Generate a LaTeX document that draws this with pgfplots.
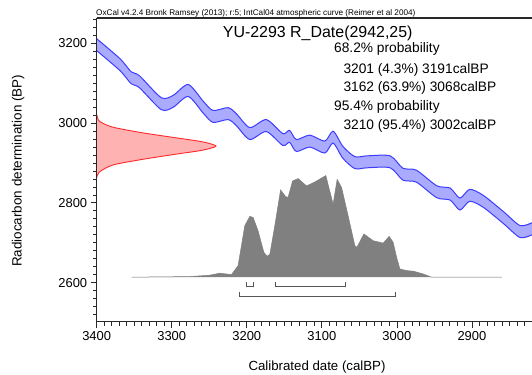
\documentclass[border=0pt]{standalone}
\usepackage{pgfplots}
\pgfplotsset{compat=1.18}
\usepackage{pgfplotstable}
\usepackage{fontspec}
\setmainfont{Liberation Sans}
\definecolor{bandfill}{RGB}{170,170,255}
\definecolor{bandline}{RGB}{60,60,255}
\definecolor{redfill}{RGB}{255,178,178}
\definecolor{redline}{RGB}{255,40,40}
\definecolor{distgrey}{RGB}{128,128,128}
\definecolor{brk}{RGB}{85,85,85}
\definecolor{axgrey}{RGB}{40,40,40}

\pgfplotstableread{
x    up   lo
3400 3212 3182
3369 3162 3132
3354 3129 3099
3343 3119 3089
3314 3064 3034
3298 3070 3040
3278 3097 3067
3258 3055 3025
3245 3032 3002
3225 3039 3009
3214 3024 2994
3196 2989 2959
3174 3009 2979
3152 2974 2944
3143 2982 2952
3134 2959 2929
3116 2970 2940
3096 2955 2925
3085 2980 2950
3072 2942 2912
3056 2916 2886
3040 2918 2888
3009 2918 2888
2992 2887 2857
2974 2882 2852
2947 2843 2813
2929 2837 2807
2916 2812 2782
2903 2834 2804
2885 2819 2789
2858 2778 2748
2836 2743 2713
2820 2750 2720
}\curve

\pgfplotstableread{
x    y
3400 3212
3369 3162
3354 3129
3343 3119
3314 3064
3298 3070
3278 3097
3258 3055
3245 3032
3225 3039
3214 3024
3196 2989
3174 3009
3152 2974
3143 2982
3134 2959
3116 2970
3096 2955
3085 2980
3072 2942
3056 2916
3040 2918
3009 2918
2992 2887
2974 2882
2947 2843
2929 2837
2916 2812
2903 2834
2885 2819
2858 2778
2836 2743
2820 2750
2820 2720
2836 2713
2858 2748
2885 2789
2903 2804
2916 2782
2929 2807
2947 2813
2974 2852
2992 2857
3009 2888
3040 2888
3056 2886
3072 2912
3085 2950
3096 2925
3116 2940
3134 2929
3143 2952
3152 2944
3174 2979
3196 2959
3214 2994
3225 3009
3245 3002
3258 3025
3278 3067
3298 3040
3314 3034
3343 3089
3354 3099
3369 3132
3400 3182
}\band

\pgfplotstableread{
x      y
3353.3 2613.5
3276   2615
3249.3 2618.5
3236   2623.5
3220.4 2620
3211.6 2642.5
3202.7 2742.5
3196   2766
3191.6 2763.5
3185   2730
3177.3 2676
3173   2666
3169.3 2671
3162.7 2742.5
3155   2832.5
3148.4 2816
3145   2813.5
3139   2855
3131.6 2861
3120.4 2842.5
3109.3 2852.5
3094.7 2868.5
3085   2796.5
3079.6 2859
3073.7 2838.5
3065   2767.5
3056   2692.5
3053.3 2688.5
3044   2722
3031.6 2705
3018.3 2699
3010.3 2716
3005   2701
3000.4 2663.5
2996   2634
2987   2630
2978   2628.5
2964.9 2621.5
2953.7 2613.5
2860   2613.5
}\dist

\pgfplotstableread{
x      y
3400   3021.75
3397.3 3006.75
3388.5 2996.75
3375.2 2988.5
3339.6 2976
3295.3 2963.5
3259.7 2953.5
3241   2942.5
3259.7 2932
3295.3 2922
3339.6 2909
3375.2 2896.75
3388.5 2886.75
3397.3 2876
3400   2863.5
}\gauss

\begin{document}
\begin{tikzpicture}
\path[use as bounding box] (0,0) rectangle (532bp,375bp);
\begin{axis}[
  at={(96.7bp,53bp)}, anchor=south west,
  scale only axis, width=435.3bp, height=304bp,
  x dir=reverse,
  xmin=2820, xmax=3400, ymin=2501, ymax=3264,
  axis x line*=bottom, axis y line*=left,
  xtick pos=left, ytick pos=left,
  tick align=outside,
  major tick length=6bp, minor tick length=3.5bp,
  xtick={2900,3000,3100,3200,3300,3400},
  ytick={2600,2800,3000,3200},
  minor xtick={2830,2840,...,3390},
  minor ytick={2520,2540,...,3260},
  every tick/.style={axgrey, line width=0.8bp},
  axis line style={axgrey, line width=1bp},
  tick label style={font=\fontsize{13}{15}\selectfont, text=black},
  /pgf/number format/1000 sep={},
  /pgf/number format/assume math mode=true,
  axis on top,
]
% red radiocarbon date distribution
\addplot[draw=redline, fill=redfill, line width=0.9bp, smooth, tension=0.45] table[x=x,y=y]{\gauss};
% calibration curve band
\addplot[draw=none, fill=bandfill, smooth, tension=0.45] table[x=x,y=y]{\band};
\addplot[draw=bandline, line width=1bp, smooth, tension=0.45] table[x=x,y=up]{\curve};
\addplot[draw=bandline, line width=1bp, smooth, tension=0.45] table[x=x,y=lo]{\curve};
% calibrated distribution
\addplot[draw=distgrey, fill=distgrey, line width=0.5bp] table[x=x,y=y]{\dist};
% range brackets
\addplot[brk, line width=1bp] coordinates {(3201,2601) (3201,2590) (3191,2590) (3191,2601)};
\addplot[brk, line width=1bp] coordinates {(3162,2601) (3162,2590) (3068,2590) (3068,2601)};
\addplot[brk, line width=1bp] coordinates {(3210,2577.5) (3210,2565) (3002,2565) (3002,2577.5)};
% top frame line
\draw[axgrey, line width=1.2bp] (rel axis cs:0,1) -- (rel axis cs:1,1);
\end{axis}
% header
\node[anchor=base west, inner sep=0pt, font=\fontsize{8.2}{9}\selectfont] at (96bp,359.5bp)
  {OxCal v4.2.4 Bronk Ramsey (2013); r:5; IntCal04 atmospheric curve (Reimer et al 2004)};
% title and probability text
\node[anchor=base west, inner sep=0pt, font=\fontsize{16}{18}\selectfont] at (222.7bp,337.7bp)
  {YU-2293 R\_Date(2942,25)};
\begin{scope}[every node/.style={anchor=base west, inner sep=0pt, font=\fontsize{13.8}{16}\selectfont}]
\node at (334bp,322.3bp) {68.2\% probability};
\node at (343.3bp,301.7bp) {3201 (4.3\%) 3191calBP};
\node at (343.3bp,283.3bp) {3162 (63.9\%) 3068calBP};
\node at (334bp,264.3bp) {95.4\% probability};
\node at (343.3bp,245.7bp) {3210 (95.4\%) 3002calBP};
\end{scope}
% axis labels
\node[anchor=base, inner sep=0pt, font=\fontsize{13.3}{15}\selectfont] at (317bp,4.3bp)
  {Calibrated date (calBP)};
\node[anchor=base, rotate=90, inner sep=0pt, font=\fontsize{13.5}{15}\selectfont] at (21.7bp,204.2bp)
  {Radiocarbon determination (BP)};
\end{tikzpicture}
\end{document}
